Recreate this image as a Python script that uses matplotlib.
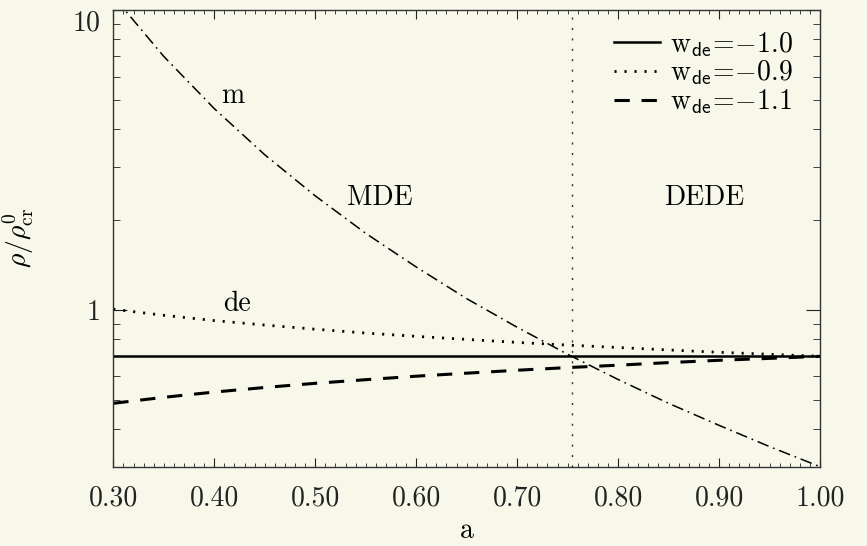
"""
Energy densities of matter and dark energy vs scale factor (log y).
"""
import matplotlib
matplotlib.use('Agg')
import matplotlib.pyplot as plt
from matplotlib.ticker import FixedLocator, MultipleLocator, NullFormatter

plt.rcParams['font.family'] = 'cmr10'
plt.rcParams['mathtext.fontset'] = 'cm'
plt.rcParams['axes.formatter.use_mathtext'] = True
plt.rcParams['lines.scale_dashes'] = False

# scale factor grid
a_vals = [0.30, 0.35, 0.40, 0.45, 0.50, 0.55, 0.60, 0.65,
          0.70, 0.75, 0.80, 0.85, 0.90, 0.95, 1.00]
rho_m = [11.11, 7.00, 4.69, 3.29, 2.40, 1.80, 1.39, 1.09,
         0.875, 0.711, 0.586, 0.488, 0.412, 0.350, 0.300]
rho_de_w10 = [0.70] * 15
rho_de_w09 = [1.005, 0.959, 0.921, 0.890, 0.862, 0.837, 0.816, 0.797,
              0.779, 0.763, 0.749, 0.735, 0.722, 0.711, 0.700]
rho_de_w11 = [0.488, 0.511, 0.532, 0.551, 0.569, 0.585, 0.601, 0.615,
              0.629, 0.642, 0.654, 0.667, 0.679, 0.689, 0.700]
a_eq = 0.754

x_ticks = [0.30, 0.40, 0.50, 0.60, 0.70, 0.80, 0.90, 1.00]
x_ticklabels = ['0.30', '0.40', '0.50', '0.60', '0.70', '0.80', '0.90', '1.00']
y_ticks = [1, 10]
y_ticklabels = ['1', '10']
y_minor = [0.4, 0.5, 0.6, 0.7, 0.8, 0.9, 2, 3, 4, 5, 6, 7, 8, 9]
legend_labels = [r'$\mathrm{w}_{\mathsf{de}}\!=\!{-}1.0$',
                 r'$\mathrm{w}_{\mathsf{de}}\!=\!{-}0.9$',
                 r'$\mathrm{w}_{\mathsf{de}}\!=\!{-}1.1$']

bg = '#f7f7ea'
fig = plt.figure(figsize=(8.67, 5.46), dpi=100, facecolor=bg)
ax = fig.add_axes([0.1307, 0.1453, 0.8151, 0.8364], facecolor=bg)

ax.plot(a_vals, rho_m, color='black', lw=1.1, dashes=(8.5, 3.5, 1.2, 3.5))
l1, = ax.plot(a_vals, rho_de_w10, color='black', lw=1.8)
l2, = ax.plot(a_vals, rho_de_w09, color='black', lw=2.0, dashes=(1.5, 5.7))
l3, = ax.plot(a_vals, rho_de_w11, color='black', lw=2.2, dashes=(11, 8.5))
ax.axvline(a_eq, color='#333333', lw=1.0, dashes=(1.5, 6))

ax.set_yscale('log')
ax.set_xlim(0.3, 1.0)
ax.set_ylim(0.3, 10)

ax.xaxis.set_major_locator(FixedLocator(x_ticks))
ax.set_xticklabels(x_ticklabels)
ax.xaxis.set_minor_locator(MultipleLocator(0.01))
ax.yaxis.set_major_locator(FixedLocator(y_ticks))
ax.set_yticklabels(y_ticklabels)
ax.yaxis.set_minor_locator(FixedLocator(y_minor))
ax.yaxis.set_minor_formatter(NullFormatter())

ax.tick_params(which='both', direction='in', top=True, right=True,
               colors='#222222', labelsize=20)
ax.tick_params(axis='x', which='major', length=6.5, pad=13)
ax.tick_params(axis='x', which='minor', length=3.2)
ax.tick_params(axis='y', which='major', length=10, pad=9)
ax.tick_params(axis='y', which='minor', length=5)
ax.yaxis.get_major_ticks()[1].label1.set_va('top')
for s in ax.spines.values():
    s.set_color('#333333')
    s.set_linewidth(1.0)

ax.set_xlabel('a', fontsize=20)
ax.xaxis.set_label_coords(0.5, -0.112)
ax.set_ylabel(r'$\rho/\rho^{0}_{\rm cr}$', fontsize=20)
ax.yaxis.set_label_coords(-0.11, 0.5)

ax.text(0.4185, 4.90, 'm', fontsize=20, ha='center', va='baseline')
ax.text(0.4228, 0.995, 'de', fontsize=20, ha='center', va='baseline')
ax.text(0.5641, 2.23, 'MDE', fontsize=20, ha='center', va='baseline')
ax.text(0.8857, 2.23, 'DEDE', fontsize=20, ha='center', va='baseline')

ax.legend([l1, l2, l3], legend_labels,
          loc='upper right', bbox_to_anchor=(0.985, 0.993), frameon=False,
          fontsize=20, handlelength=1.65, handletextpad=0.35,
          labelspacing=0.0, borderaxespad=0.2)

fig.savefig('out.png', dpi=100, facecolor=bg)
